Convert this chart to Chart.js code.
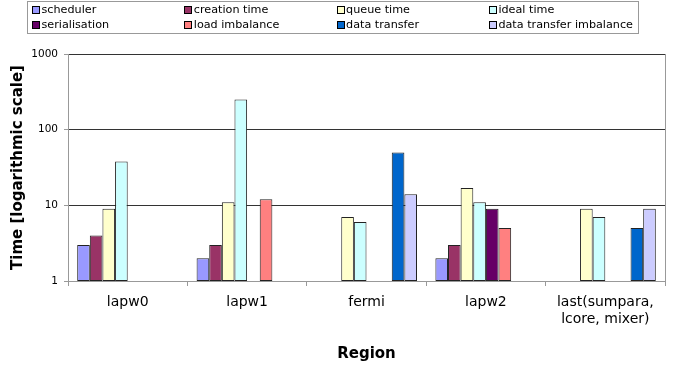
<!DOCTYPE html>
<html>
<head>
<meta charset="utf-8">
<script src="https://cdn.jsdelivr.net/npm/chart.js@4.4.1/dist/chart.umd.min.js"></script>
<style>
  html, body { margin: 0; padding: 0; background: #fff; }
  #wrap { width: 676px; height: 367px; }
</style>
</head>
<body>
<div id="wrap"><canvas id="chart" width="676" height="367"></canvas></div>
<script>
const regions = ['lapw0', 'lapw1', 'fermi', 'lapw2', ['last(sumpara,', 'lcore, mixer)']];
const yTicks = [1, 10, 100, 1000];

const scheduler      = [3,    2,    null, 2,    null];
const creationTime   = [4,    3,    null, 3,    null];
const queueTime      = [9,    11,   7,    17,   9];
const idealTime      = [38,   250,  6,    11,   7];
const serialisation  = [null, null, null, 9,    null];
const loadImbalance  = [null, 12,   null, 5,    null];
const dataTransfer   = [null, null, 50,   null, 5];
const dtImbalance    = [null, null, 14,   null, 9];

const font = 'DejaVu Sans';

function series(label, data, color) {
    return {
        label: label,
        data: data,
        backgroundColor: color,
        borderColor: '#222',
        borderWidth: 1,
        borderSkipped: false,
        categoryPercentage: 0.846,
        barPercentage: 1.0
    };
}

// legend in a 4 column grid, like the spreadsheet one
const gridLegend = {
    id: 'gridLegend',
    afterDraw(chart) {
        const ctx = chart.ctx;
        ctx.save();
        ctx.strokeStyle = '#999';
        ctx.lineWidth = 1;
        ctx.strokeRect(27.5, 1.5, 611, 32);
        ctx.font = '11.2px "' + font + '"';
        ctx.textBaseline = 'middle';
        chart.data.datasets.forEach((ds, i) => {
            const col = i % 4, row = Math.floor(i / 4);
            const x = 32 + col * 152.3;
            const y = 10 + row * 15;
            ctx.fillStyle = ds.backgroundColor;
            ctx.fillRect(Math.round(x) + 0.5, Math.round(y - 4) + 0.5, 7, 7);
            ctx.strokeStyle = '#000';
            ctx.strokeRect(Math.round(x) + 0.5, Math.round(y - 4) + 0.5, 7, 7);
            ctx.fillStyle = '#000';
            ctx.fillText(ds.label, x + 9.5, y);
        });
        ctx.restore();
    }
};

const rightBorder = {
    id: 'rightBorder',
    afterDatasetsDraw(chart) {
        const {ctx, chartArea} = chart;
        ctx.save();
        ctx.strokeStyle = '#999';
        ctx.lineWidth = 1;
        ctx.beginPath();
        ctx.moveTo(Math.round(chartArea.right) + 0.5, chartArea.top);
        ctx.lineTo(Math.round(chartArea.right) + 0.5, chartArea.bottom);
        ctx.stroke();
        ctx.restore();
    }
};

new Chart(document.getElementById('chart'), {
    type: 'bar',
    data: {
        labels: regions,
        datasets: [
            series('scheduler', scheduler, '#9999FF'),
            series('creation time', creationTime, '#993366'),
            series('queue time', queueTime, '#FFFFCC'),
            series('ideal time', idealTime, '#CCFFFF'),
            series('serialisation', serialisation, '#660066'),
            series('load imbalance', loadImbalance, '#FF8080'),
            series('data transfer', dataTransfer, '#0066CC'),
            series('data transfer imbalance', dtImbalance, '#CCCCFF')
        ]
    },
    options: {
        responsive: false,
        animation: false,
        layout: { padding: { top: 54, right: 11, left: 0, bottom: 0 } },
        plugins: {
            legend: { display: false },
            tooltip: { enabled: false }
        },
        scales: {
            x: {
                offset: true,
                grid: {
                    offset: true,
                    drawOnChartArea: false,
                    drawTicks: true,
                    tickLength: 5,
                    color: '#999'
                },
                border: { color: '#999' },
                ticks: {
                    color: '#000',
                    font: { family: font, size: 14 },
                    padding: 8,
                    maxRotation: 0,
                    autoSkip: false
                },
                title: {
                    display: true,
                    text: 'Region',
                    color: '#000',
                    font: { family: font, size: 15, weight: 'bold' },
                    padding: { top: 6 }
                },
                afterFit(scale) { scale.height = 86; }
            },
            y: {
                type: 'logarithmic',
                min: 1,
                max: 1000,
                afterBuildTicks(scale) {
                    scale.ticks = yTicks.map(v => ({ value: v }));
                },
                grid: {
                    color: '#333',
                    tickColor: '#999',
                    tickLength: 4
                },
                border: { color: '#999' },
                ticks: {
                    color: '#000',
                    font: { family: font, size: 10.5 },
                    padding: 6,
                    callback: v => String(v)
                },
                title: {
                    display: true,
                    text: 'Time [logarithmic scale]',
                    color: '#000',
                    font: { family: font, size: 15, weight: 'bold' },
                    padding: { top: 9, bottom: 0 }
                },
                afterFit(scale) { scale.width = 68; }
            }
        }
    },
    plugins: [gridLegend, rightBorder]
});
</script>
</body>
</html>
